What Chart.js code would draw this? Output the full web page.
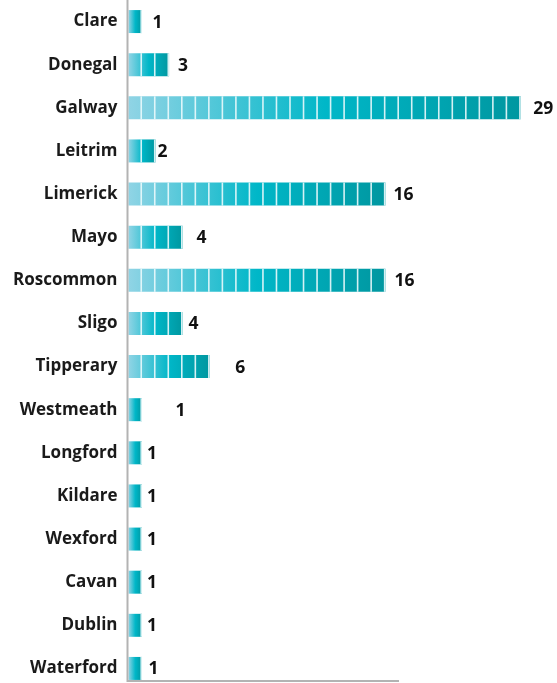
<!DOCTYPE html>
<html>
<head>
<meta charset="utf-8">
<script src="https://cdn.jsdelivr.net/npm/chart.js@4/dist/chart.umd.min.js"></script>
<style>
  html, body { margin: 0; padding: 0; background: #fff; overflow: hidden; }
  #wrap { position: absolute; left: 0; top: 0; }
</style>
</head>
<body>
<div id="wrap"><canvas id="countyBar" width="557" height="690"></canvas></div>
<script>
// categories and values
const categories = ['Clare', 'Donegal', 'Galway', 'Leitrim', 'Limerick', 'Mayo', 'Roscommon', 'Sligo',
  'Tipperary', 'Westmeath', 'Longford', 'Kildare', 'Wexford', 'Cavan', 'Dublin', 'Waterford'];
// number of unit blocks drawn in each bar
const barUnits = [1, 3, 29, 2, 19, 4, 19, 4, 6, 1, 1, 1, 1, 1, 1, 1];
// number printed next to each bar
const countLabels = ['1', '3', '29', '2', '16', '4', '16', '4', '6', '1', '1', '1', '1', '1', '1', '1'];
const xTicks = [0, 20];

// layout only: gap between bar end and its number (px)
const labelGap = [10.5, 9, 12.5, 2, 8, 14, 9, 6, 25.5, 33.5, 5, 5, 5, 5, 5, 6.5];

function barGradient(context) {
  const chart = context.chart;
  if (!chart.chartArea) return '#00b5c6';
  const xs = chart.scales.x;
  const x0 = xs.getPixelForValue(0);
  const x1 = xs.getPixelForValue(context.raw);
  if (!isFinite(x0) || !isFinite(x1) || x1 <= x0) return '#00b5c6';
  const g = chart.ctx.createLinearGradient(x0, 0, x1, 0);
  g.addColorStop(0, '#90d4e5');
  g.addColorStop(0.5, '#00b7c8');
  g.addColorStop(1, '#0097a0');
  return g;
}

// white gaps between unit blocks, numbers at bar ends, L shaped axis
const blocksPlugin = {
  id: 'blocks',
  afterDatasetsDraw(chart) {
    const ctx = chart.ctx;
    const xs = chart.scales.x;
    const meta = chart.getDatasetMeta(0);
    ctx.save();
    meta.data.forEach((bar, i) => {
      const h = bar.height;
      const top = bar.y - h / 2;
      ctx.fillStyle = 'rgba(235, 250, 252, 0.9)';
      for (let u = 1; u <= barUnits[i]; u++) {
        const px = xs.getPixelForValue(u);
        ctx.fillRect(px - 1.6, top, 1.6, h);
      }
      ctx.fillStyle = '#111';
      ctx.font = 'bold 17.5px "Open Sans"';
      ctx.textAlign = 'left';
      ctx.textBaseline = 'middle';
      ctx.fillText(countLabels[i], bar.x + labelGap[i], bar.y + 1);
    });

    const last = meta.data[meta.data.length - 1];
    const bottom = last.y + last.height / 2 + 1;
    const left = chart.chartArea.left - 1;
    ctx.strokeStyle = '#b3b3b3';
    ctx.lineWidth = 2;
    ctx.beginPath();
    ctx.moveTo(left, 0);
    ctx.lineTo(left, bottom);
    ctx.lineTo(xs.getPixelForValue(xTicks[1]), bottom);
    ctx.stroke();
    ctx.restore();
  }
};

const ctxBar = document.getElementById('countyBar');
const countyBar = new Chart(ctxBar, {
  type: 'bar',
  data: {
    labels: categories,
    datasets: [{
      label: 'Count',
      data: barUnits,
      backgroundColor: barGradient,
      borderWidth: 0,
      barPercentage: 0.533,
      categoryPercentage: 1,
      clip: false
    }]
  },
  options: {
    indexAxis: 'y',
    responsive: false,
    animation: false,
    layout: {
      padding: { left: 0, right: 158, top: 0, bottom: 0 }
    },
    plugins: {
      legend: { display: false },
      tooltip: { enabled: false }
    },
    scales: {
      x: {
        display: false,
        min: xTicks[0],
        max: xTicks[1]
      },
      y: {
        afterFit(scale) {
          scale.width = 128.5;
          scale.paddingTop = 0;
          scale.paddingBottom = 0;
        },
        grid: { display: false, drawTicks: false },
        border: { display: false },
        ticks: {
          padding: 11,
          color: '#1a1a1a',
          font: { family: 'Open Sans', weight: 'bold', size: 17 }
        }
      }
    }
  },
  plugins: [blocksPlugin]
});
</script>
</body>
</html>
